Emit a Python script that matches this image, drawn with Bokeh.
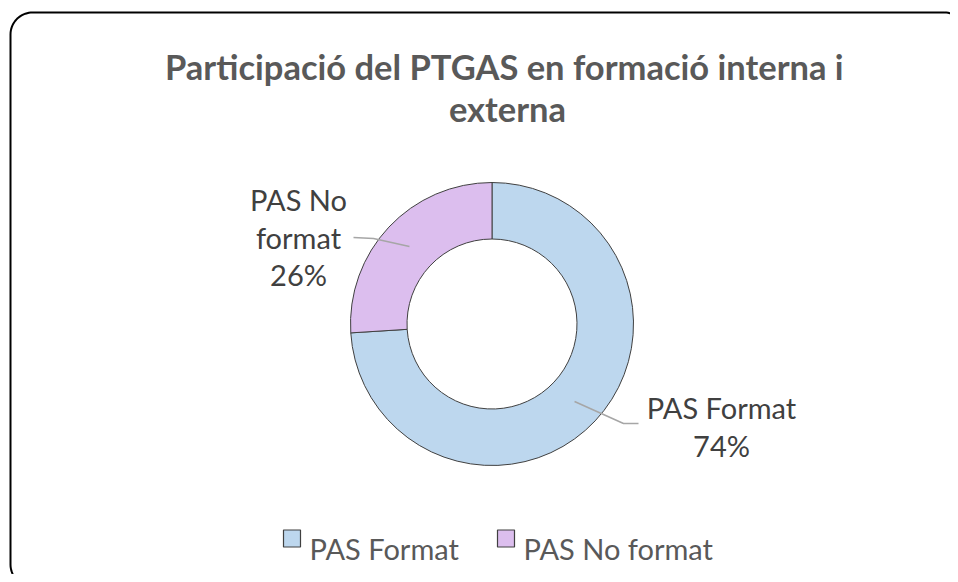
import numpy as np
from bokeh.plotting import figure
from bokeh.models import Range1d, ColumnDataSource
from bokeh.core.properties import value
from bokeh.embed import file_html
from bokeh.resources import INLINE

# ---- data ----
categories = ["PAS Format", "PAS No format"]
values = [74, 26]
colors = ["#BDD7EE", "#DCBEEE"]
label_lines = [["PAS Format"], ["PAS No", "format"]]
title_lines = ["Participació  del PTGAS en formació interna i", "externa"]

FONT = "Lato"

# page coords: x = px, y = -py
p = figure(width=950, height=574, x_range=Range1d(0, 950), y_range=Range1d(-574, 0),
           output_backend="svg", toolbar_location=None, min_border=0)
p.axis.visible = False
p.grid.visible = False
p.outline_line_color = None
p.background_fill_color = "white"
p.border_fill_color = "white"

# rounded frame
L, T, R, B, rad = 10, 12, 966, 586, 22
pts = []
for fx, fy, a0, a1 in [(R - rad, T + rad, -90, 0), (R - rad, B - rad, 0, 90),
                       (L + rad, B - rad, 90, 180), (L + rad, T + rad, 180, 270)]:
    a = np.radians(np.linspace(a0, a1, 20))
    pts += list(zip(fx + rad * np.cos(a), fy + rad * np.sin(a)))
pts.append(pts[0])
p.line([q[0] for q in pts], [-q[1] for q in pts], line_color="black", line_width=2)

# donut
cx, cy = 491.5, -323.5
r_out, r_in = 141.5, 85
total = sum(values)
frac = np.array(values) / total
ends = np.pi / 2 - 2 * np.pi * np.cumsum(frac)
starts = np.concatenate([[np.pi / 2], ends[:-1]])
src = ColumnDataSource(dict(start=starts, end=ends, color=colors, cat=categories))
p.annular_wedge(x=cx, y=cy, inner_radius=r_in, outer_radius=r_out,
                start_angle="start", end_angle="end", direction="clock",
                fill_color="color", line_color="#404040", line_width=1, source=src)

# data labels + leader lines
mid = (starts + ends) / 2
r_mid = (r_in + r_out) / 2
label_cx = [721, 298]
label_first_base = [407, 199]
line_gap = 37.5
elbows = [[(623, 423), (638, 423)], [(373, 238), (353, 237)]]
for i in range(len(values)):
    sx = cx + r_mid * np.cos(mid[i])
    sy = cy + r_mid * np.sin(mid[i])
    ex = [sx] + [e[0] for e in elbows[i]]
    ey = [sy] + [-e[1] for e in elbows[i]]
    p.line(ex, ey, line_color="#A6A6A6", line_width=1.5)
    lines = label_lines[i] + [f"{round(frac[i] * 100)}%"]
    xs = [label_cx[i]] * len(lines)
    ys = [-(label_first_base[i] + line_gap * k) for k in range(len(lines))]
    p.text(x=xs, y=ys, text=lines, text_align="center", text_baseline="alphabetic",
           text_font=value(FONT), text_font_size="29px", text_color="#404040")

# title
p.text(x=[508, 507], y=[-66, -108], text=title_lines, text_align="center",
       text_baseline="alphabetic", text_font=value(FONT), text_font_style="bold",
       text_font_size="34.5px", text_color="#595959")

# legend
leg_sq_x = [283, 497]
leg_tx_x = [309, 523]
p.rect(x=[x + 8.5 for x in leg_sq_x], y=[-538] * 2, width=17, height=17,
       fill_color=colors, line_color="#404040", line_width=1.2)
p.text(x=leg_tx_x, y=[-548] * 2, text=categories, text_align="left",
       text_baseline="alphabetic", text_font=value(FONT), text_font_size="29px",
       text_color="#595959")

open("out.html", "w").write(file_html(p, INLINE))
